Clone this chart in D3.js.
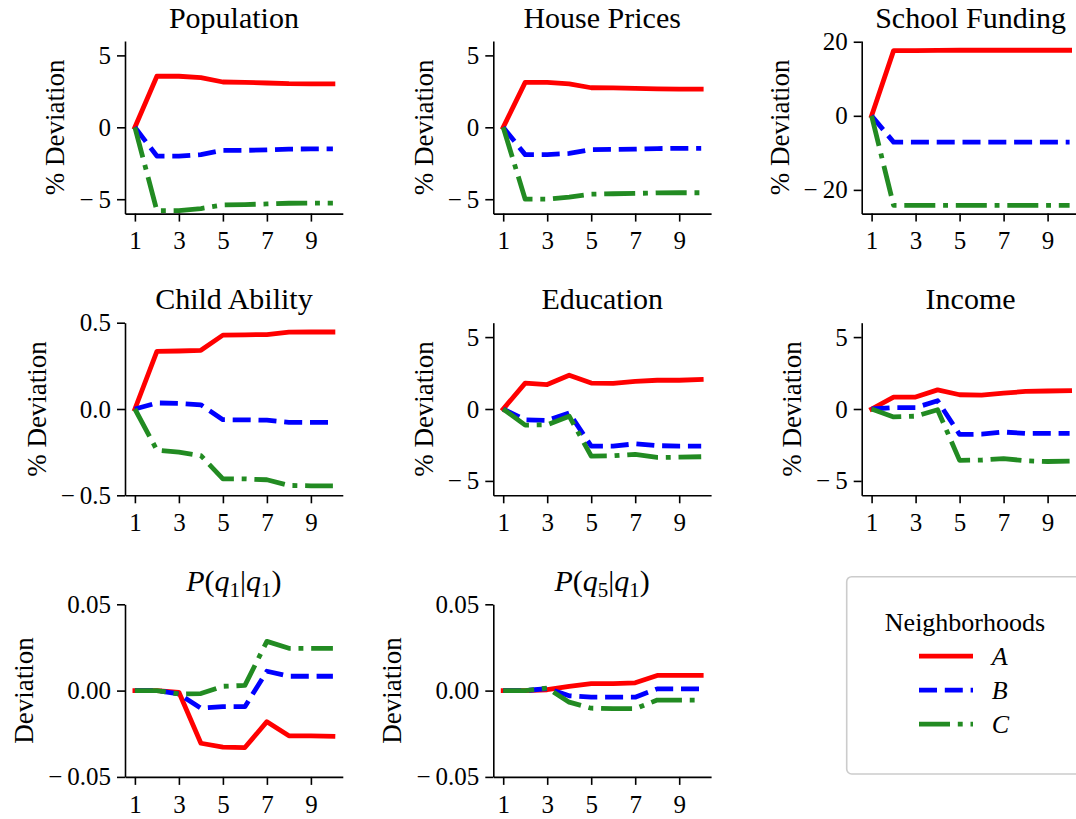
<!DOCTYPE html>
<html>
<head>
<meta charset="utf-8">
<script src="https://cdn.jsdelivr.net/npm/d3@7"></script>
<style>
  body { margin: 0; background: #fff; }
  text { font-family: "Liberation Serif", "DejaVu Serif", serif; fill: #000; }
</style>
</head>
<body>
<div id="chart"></div>
<script>
// Periods on the x axis
const periods = [1, 2, 3, 4, 5, 6, 7, 8, 9, 10];
const xTicks = [1, 3, 5, 7, 9];

// Neighborhoods
const seriesNames = ["A", "B", "C"];

// Values (A = red, B = blue, C = green)
const populationA = [0, 3.55, 3.55, 3.45, 3.15, 3.12, 3.08, 3.03, 3.02, 3.02];
const populationB = [0, -2.0, -2.0, -1.9, -1.6, -1.6, -1.57, -1.52, -1.5, -1.5];
const populationC = [0, -5.8, -5.8, -5.65, -5.4, -5.37, -5.33, -5.28, -5.27, -5.27];

const housePricesA = [0, 3.12, 3.12, 3.02, 2.75, 2.74, 2.71, 2.67, 2.65, 2.65];
const housePricesB = [0, -1.9, -1.9, -1.82, -1.55, -1.54, -1.52, -1.48, -1.46, -1.46];
const housePricesC = [0, -5.0, -5.0, -4.85, -4.65, -4.62, -4.6, -4.56, -4.55, -4.55];

const schoolFundingA = [0, 17.6, 17.6, 17.65, 17.7, 17.7, 17.7, 17.7, 17.7, 17.7];
const schoolFundingB = [0, -7.1, -7.1, -7.1, -7.1, -7.1, -7.1, -7.1, -7.1, -7.1];
const schoolFundingC = [0, -24.2, -24.2, -24.2, -24.2, -24.2, -24.2, -24.2, -24.2, -24.2];

const childAbilityA = [0, 0.334, 0.336, 0.34, 0.428, 0.43, 0.431, 0.445, 0.446, 0.446];
const childAbilityB = [0, 0.035, 0.033, 0.024, -0.062, -0.063, -0.065, -0.077, -0.078, -0.078];
const childAbilityC = [0, -0.238, -0.25, -0.27, -0.405, -0.405, -0.41, -0.443, -0.445, -0.445];

const educationA = [0, 1.8, 1.7, 2.35, 1.8, 1.78, 1.92, 2.0, 2.0, 2.05];
const educationB = [0, -0.75, -0.8, -0.28, -2.58, -2.58, -2.42, -2.55, -2.58, -2.58];
const educationC = [0, -1.12, -1.1, -0.5, -3.27, -3.25, -3.15, -3.37, -3.35, -3.32];

const incomeA = [0, 0.83, 0.83, 1.33, 0.99, 0.97, 1.1, 1.22, 1.25, 1.28];
const incomeB = [0, 0.1, 0.1, 0.57, -1.77, -1.75, -1.6, -1.7, -1.7, -1.7];
const incomeC = [0, -0.55, -0.5, -0.05, -3.57, -3.55, -3.45, -3.6, -3.65, -3.62];

const q1q1A = [0, 0, -0.001, -0.0305, -0.0327, -0.033, -0.018, -0.0262, -0.0262, -0.0265];
const q1q1B = [0, 0, -0.002, -0.0102, -0.0093, -0.0093, 0.0112, 0.0083, 0.0083, 0.0083];
const q1q1C = [0, 0, -0.002, -0.0017, 0.0025, 0.003, 0.0285, 0.0245, 0.0245, 0.0245];

const q5q1A = [0, 0, 0.0005, 0.0025, 0.004, 0.004, 0.0045, 0.0088, 0.0088, 0.0088];
const q5q1B = [0, 0, 0.0012, -0.003, -0.0038, -0.0038, -0.0038, 0.001, 0.001, 0.001];
const q5q1C = [0, 0, 0.0015, -0.0067, -0.0102, -0.0105, -0.0105, -0.0055, -0.0055, -0.0055];

// Tick values
const pctTicks = [-5, 0, 5];
const fundingTicks = [-20, 0, 20];
const abilityTicks = [-0.5, 0, 0.5];
const probTicks = [-0.05, 0, 0.05];

// Title pieces: [text, style] where style is "" | "i" (italic) | "sub"
const titleQ1 = [["P", "i"], ["(", ""], ["q", "i"], ["1", "sub"], ["|", ""], ["q", "i"], ["1", "sub"], [")", ""]];
const titleQ5 = [["P", "i"], ["(", ""], ["q", "i"], ["5", "sub"], ["|", ""], ["q", "i"], ["1", "sub"], [")", ""]];

const panels = [
  { title: [["Population", ""]], series: [populationA, populationB, populationC], domain: [-6, 6], ticks: pctTicks, fmt: "d", label: "% Deviation" },
  { title: [["House Prices", ""]], series: [housePricesA, housePricesB, housePricesC], domain: [-6, 6], ticks: pctTicks, fmt: "d", label: "% Deviation" },
  { title: [["School Funding", ""]], series: [schoolFundingA, schoolFundingB, schoolFundingC], domain: [-26.4, 20.2], ticks: fundingTicks, fmt: "d", label: "% Deviation" },
  { title: [["Child Ability", ""]], series: [childAbilityA, childAbilityB, childAbilityC], domain: [-0.5, 0.5], ticks: abilityTicks, fmt: ".1f", label: "% Deviation" },
  { title: [["Education", ""]], series: [educationA, educationB, educationC], domain: [-6, 6], ticks: pctTicks, fmt: "d", label: "% Deviation" },
  { title: [["Income", ""]], series: [incomeA, incomeB, incomeC], domain: [-6, 6], ticks: pctTicks, fmt: "d", label: "% Deviation" },
  { title: titleQ1, series: [q1q1A, q1q1B, q1q1C], domain: [-0.05, 0.05], ticks: probTicks, fmt: ".2f", label: "Deviation" },
  { title: titleQ5, series: [q5q1A, q5q1B, q5q1C], domain: [-0.05, 0.05], ticks: probTicks, fmt: ".2f", label: "Deviation" }
];

// Layout
const WIDTH = 1076;
const HEIGHT = 819;
const colX = [125, 493.3, 861.7];
const rowY = [41, 322.7, 604.3];
const plotW = 217.8;
const plotH = 172.6;
const LW = 4.8;

const colors = ["#ff0000", "#0000ff", "#228b22"];
const dashes = [null, "18 7.8", "31 7.8 4.9 7.8"];

const svg = d3
  .select("#chart")
  .append("svg")
  .attr("width", WIDTH)
  .attr("height", HEIGHT)
  .style("background-color", "#fff");

const x = d3.scaleLinear().domain([0.55, 10.45]).range([0, plotW]);

panels.forEach((p, k) => {
  const g = svg
    .append("g")
    .attr("transform", `translate(${colX[k % 3]}, ${rowY[Math.floor(k / 3)]})`);

  const y = d3.scaleLinear().domain(p.domain).range([plotH, 0]);

  // Axes
  const xAxis = g
    .append("g")
    .attr("transform", `translate(0, ${plotH})`)
    .call(d3.axisBottom(x).tickValues(xTicks).tickSize(8).tickSizeOuter(0).tickPadding(10));

  const yAxis = g
    .append("g")
    .call(d3.axisLeft(y).tickValues(p.ticks).tickFormat(d3.format(p.fmt)).tickSize(8).tickSizeOuter(0).tickPadding(6));

  [xAxis, yAxis].forEach((a) => {
    a.attr("font-family", null).attr("font-size", null);
    a.selectAll("path, line").attr("stroke", "#000").attr("stroke-width", 1.6);
    a.selectAll("text").attr("font-size", "25px").attr("fill", "#000");
  });

  // a little more room after the minus sign, like the TeX minus
  yAxis.selectAll("text").text(function () {
    const t = d3.select(this).text();
    return t.startsWith("\u2212") ? "\u2212\u2009" + t.slice(1) : t;
  });

  // Lines, A first so C sits on top
  const line = d3
    .line()
    .x((d, i) => x(periods[i]))
    .y((d) => y(d));

  p.series.forEach((vals, i) => {
    g.append("path")
      .datum(vals)
      .attr("d", line)
      .attr("fill", "none")
      .attr("stroke", colors[i])
      .attr("stroke-width", LW)
      .attr("stroke-linejoin", "round")
      .attr("stroke-linecap", i === 0 ? "square" : "butt")
      .attr("stroke-dasharray", dashes[i]);
  });

  // Title
  const title = g
    .append("text")
    .attr("x", plotW / 2)
    .attr("y", -13.5)
    .attr("text-anchor", "middle")
    .attr("font-size", "30px");
  p.title.forEach(([t, s], j) => {
    const ts = title.append("tspan").text(t);
    if (s === "i") ts.attr("font-style", "italic");
    if (s === "sub") ts.attr("font-size", "21px").attr("dy", 6);
    else if (j > 0 && p.title[j - 1][1] === "sub") ts.attr("dy", -6);
  });

  // Y label, placed left of the tick labels
  const bb = yAxis.node().getBBox();
  g.append("text")
    .attr("transform", `translate(${bb.x - 15}, ${plotH / 2}) rotate(-90)`)
    .attr("text-anchor", "middle")
    .attr("font-size", "27px")
    .text(p.label);
});

// Legend
const legend = svg.append("g").attr("transform", "translate(846.7, 576.7)");

legend
  .append("rect")
  .attr("width", 260)
  .attr("height", 197.3)
  .attr("rx", 5)
  .attr("fill", "#fff")
  .attr("stroke", "#cccccc")
  .attr("stroke-width", 1.6);

legend
  .append("text")
  .attr("x", 118.3)
  .attr("y", 54)
  .attr("text-anchor", "middle")
  .attr("font-size", "26px")
  .text("Neighborhoods");

seriesNames.forEach((name, i) => {
  const ly = 79.5 + i * 34;
  legend
    .append("line")
    .attr("x1", 72.3)
    .attr("x2", 126.3)
    .attr("y1", ly)
    .attr("y2", ly)
    .attr("stroke", colors[i])
    .attr("stroke-width", LW)
    .attr("stroke-dasharray", dashes[i]);
  legend
    .append("text")
    .attr("x", 145)
    .attr("y", ly)
    .attr("dy", "0.35em")
    .attr("font-size", "26px")
    .attr("font-style", "italic")
    .text(name);
});
</script>
</body>
</html>
